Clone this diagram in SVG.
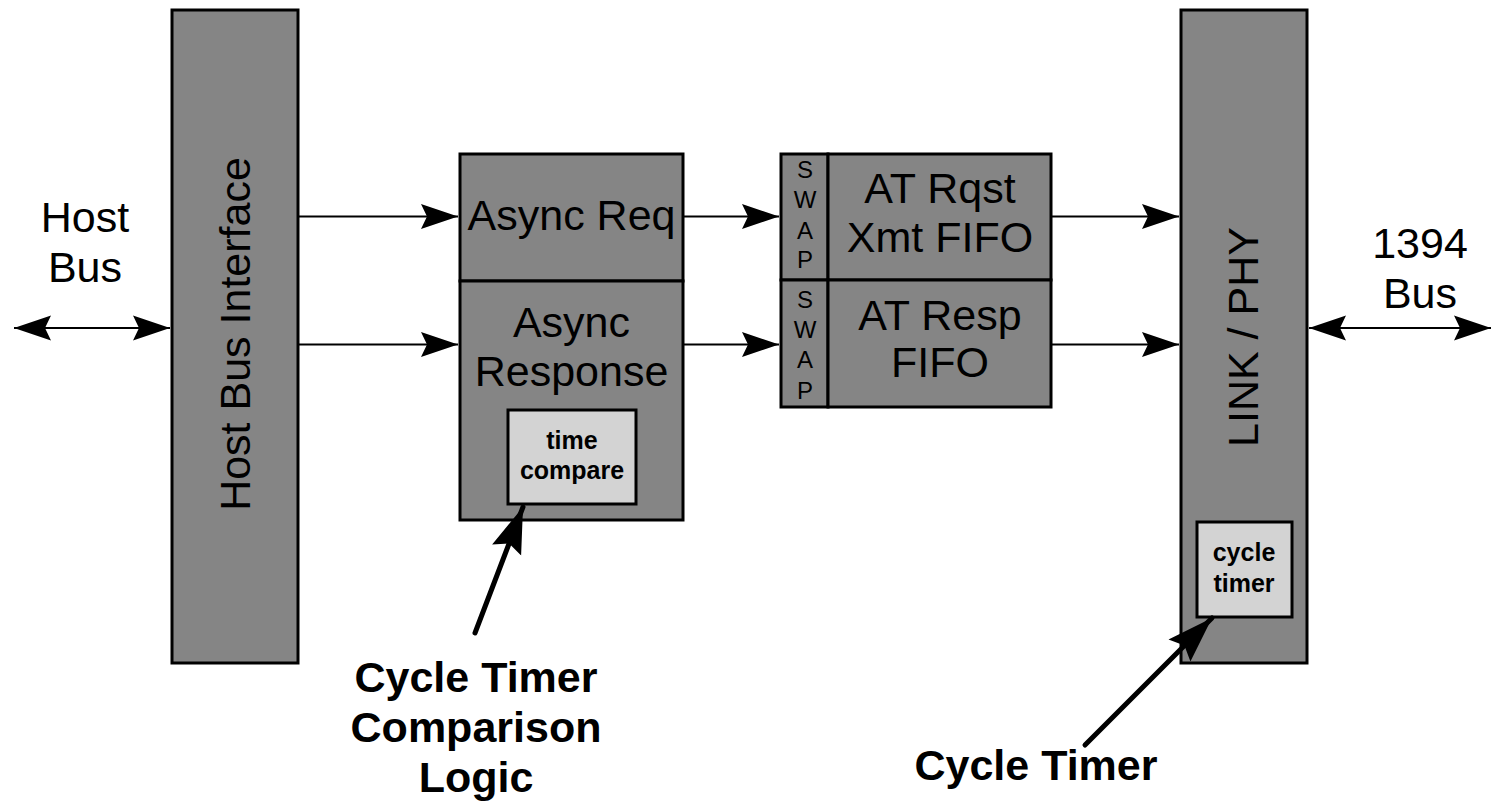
<svg xmlns="http://www.w3.org/2000/svg" width="1493" height="803" viewBox="0 0 1493 803">
<style>
.box{fill:#858585;stroke:#000;stroke-width:3}
.sub{fill:#d3d3d3;stroke:#000;stroke-width:3}
.lbl{font-family:"Liberation Sans",Arial,sans-serif;font-size:43px;fill:#000;text-anchor:middle}
.sw{font-family:"Liberation Sans",Arial,sans-serif;font-size:24px;fill:#000;text-anchor:middle}
.sm{font-family:"Liberation Sans",Arial,sans-serif;font-size:25px;font-weight:bold;fill:#000;text-anchor:middle}
.big{font-family:"Liberation Sans",Arial,sans-serif;font-size:43px;font-weight:bold;fill:#000;text-anchor:middle}
.conn{stroke:#000;stroke-width:2;fill:none}
.ptr{stroke:#000;stroke-width:5;fill:none;stroke-linecap:round}
</style>
<defs>
<marker id="ah" markerUnits="userSpaceOnUse" markerWidth="40" markerHeight="30" viewBox="-38 -14 40 28" refX="0" refY="0" orient="auto-start-reverse">
<path d="M0,0 L-37,-12.5 L-31,0 L-37,12.5 Z" fill="#000"/>
</marker>
<marker id="ph" markerUnits="userSpaceOnUse" markerWidth="48" markerHeight="34" viewBox="-46 -17 48 34" refX="0" refY="0" orient="auto">
<path d="M0,0 L-46,-15.5 L-39,0 L-46,15.5 Z" fill="#000"/>
</marker>
</defs>

<g id="host-bus-interface">
<rect class="box" x="172" y="10" width="126" height="653"/>
<text class="lbl" transform="translate(250,334) rotate(-90)">Host Bus Interface</text>
</g>

<g id="async-req">
<rect class="box" x="460" y="154" width="223" height="127"/>
<text class="lbl" x="571.5" y="230">Async Req</text>
</g>

<g id="async-response">
<rect class="box" x="460" y="281" width="223" height="239"/>
<text class="lbl" x="571.5" y="337">Async</text>
<text class="lbl" x="571.5" y="386">Response</text>
</g>

<g id="time-compare">
<rect class="sub" x="508" y="410" width="128" height="94"/>
<text class="sm" x="572" y="449">time</text>
<text class="sm" x="572" y="479">compare</text>
</g>

<g id="swap-1">
<rect class="box" x="781" y="154" width="47" height="126"/>
<text class="sw" x="805" y="178">S</text>
<text class="sw" x="805" y="208">W</text>
<text class="sw" x="805" y="239">A</text>
<text class="sw" x="805" y="268">P</text>
</g>

<g id="at-rqst-fifo">
<rect class="box" x="828" y="154" width="223" height="126"/>
<text class="lbl" x="940" y="203">AT Rqst</text>
<text class="lbl" x="940" y="252">Xmt FIFO</text>
</g>

<g id="swap-2">
<rect class="box" x="781" y="280" width="47" height="127"/>
<text class="sw" x="805" y="308">S</text>
<text class="sw" x="805" y="338">W</text>
<text class="sw" x="805" y="368">A</text>
<text class="sw" x="805" y="399">P</text>
</g>

<g id="at-resp-fifo">
<rect class="box" x="828" y="280" width="223" height="127"/>
<text class="lbl" x="940" y="330">AT Resp</text>
<text class="lbl" x="940" y="377">FIFO</text>
</g>

<g id="link-phy">
<rect class="box" x="1181" y="10" width="126" height="653"/>
<text class="lbl" transform="translate(1258,337) rotate(-90)">LINK / PHY</text>
</g>

<g id="cycle-timer">
<rect class="sub" x="1197" y="522" width="95" height="95"/>
<text class="sm" x="1244" y="561">cycle</text>
<text class="sm" x="1244" y="592">timer</text>
</g>

<g id="host-bus-label">
<text class="lbl" x="85" y="232">Host</text>
<text class="lbl" x="85" y="282">Bus</text>
</g>

<g id="bus-1394-label">
<text class="lbl" x="1420" y="258">1394</text>
<text class="lbl" x="1420" y="308">Bus</text>
</g>

<g id="ctcl-label">
<text class="big" x="476" y="692">Cycle Timer</text>
<text class="big" x="476" y="742">Comparison</text>
<text class="big" x="476" y="792">Logic</text>
</g>

<g id="ct-label">
<text class="big" x="1036" y="780">Cycle Timer</text>
</g>

<g id="connectors">
<line class="conn" x1="14" y1="328" x2="170" y2="328" marker-start="url(#ah)" marker-end="url(#ah)"/>
<line class="conn" x1="299" y1="216.5" x2="458" y2="216.5" marker-end="url(#ah)"/>
<line class="conn" x1="299" y1="344.5" x2="458" y2="344.5" marker-end="url(#ah)"/>
<line class="conn" x1="684" y1="216.5" x2="779" y2="216.5" marker-end="url(#ah)"/>
<line class="conn" x1="684" y1="344.5" x2="779" y2="344.5" marker-end="url(#ah)"/>
<line class="conn" x1="1052" y1="216.5" x2="1179" y2="216.5" marker-end="url(#ah)"/>
<line class="conn" x1="1052" y1="344.5" x2="1179" y2="344.5" marker-end="url(#ah)"/>
<line class="conn" x1="1309" y1="328" x2="1491" y2="328" marker-start="url(#ah)" marker-end="url(#ah)"/>
<line class="ptr" x1="475" y1="633" x2="523" y2="507" marker-end="url(#ph)"/>
<line class="ptr" x1="1085" y1="745" x2="1212" y2="618" marker-end="url(#ph)"/>
</g>
</svg>
